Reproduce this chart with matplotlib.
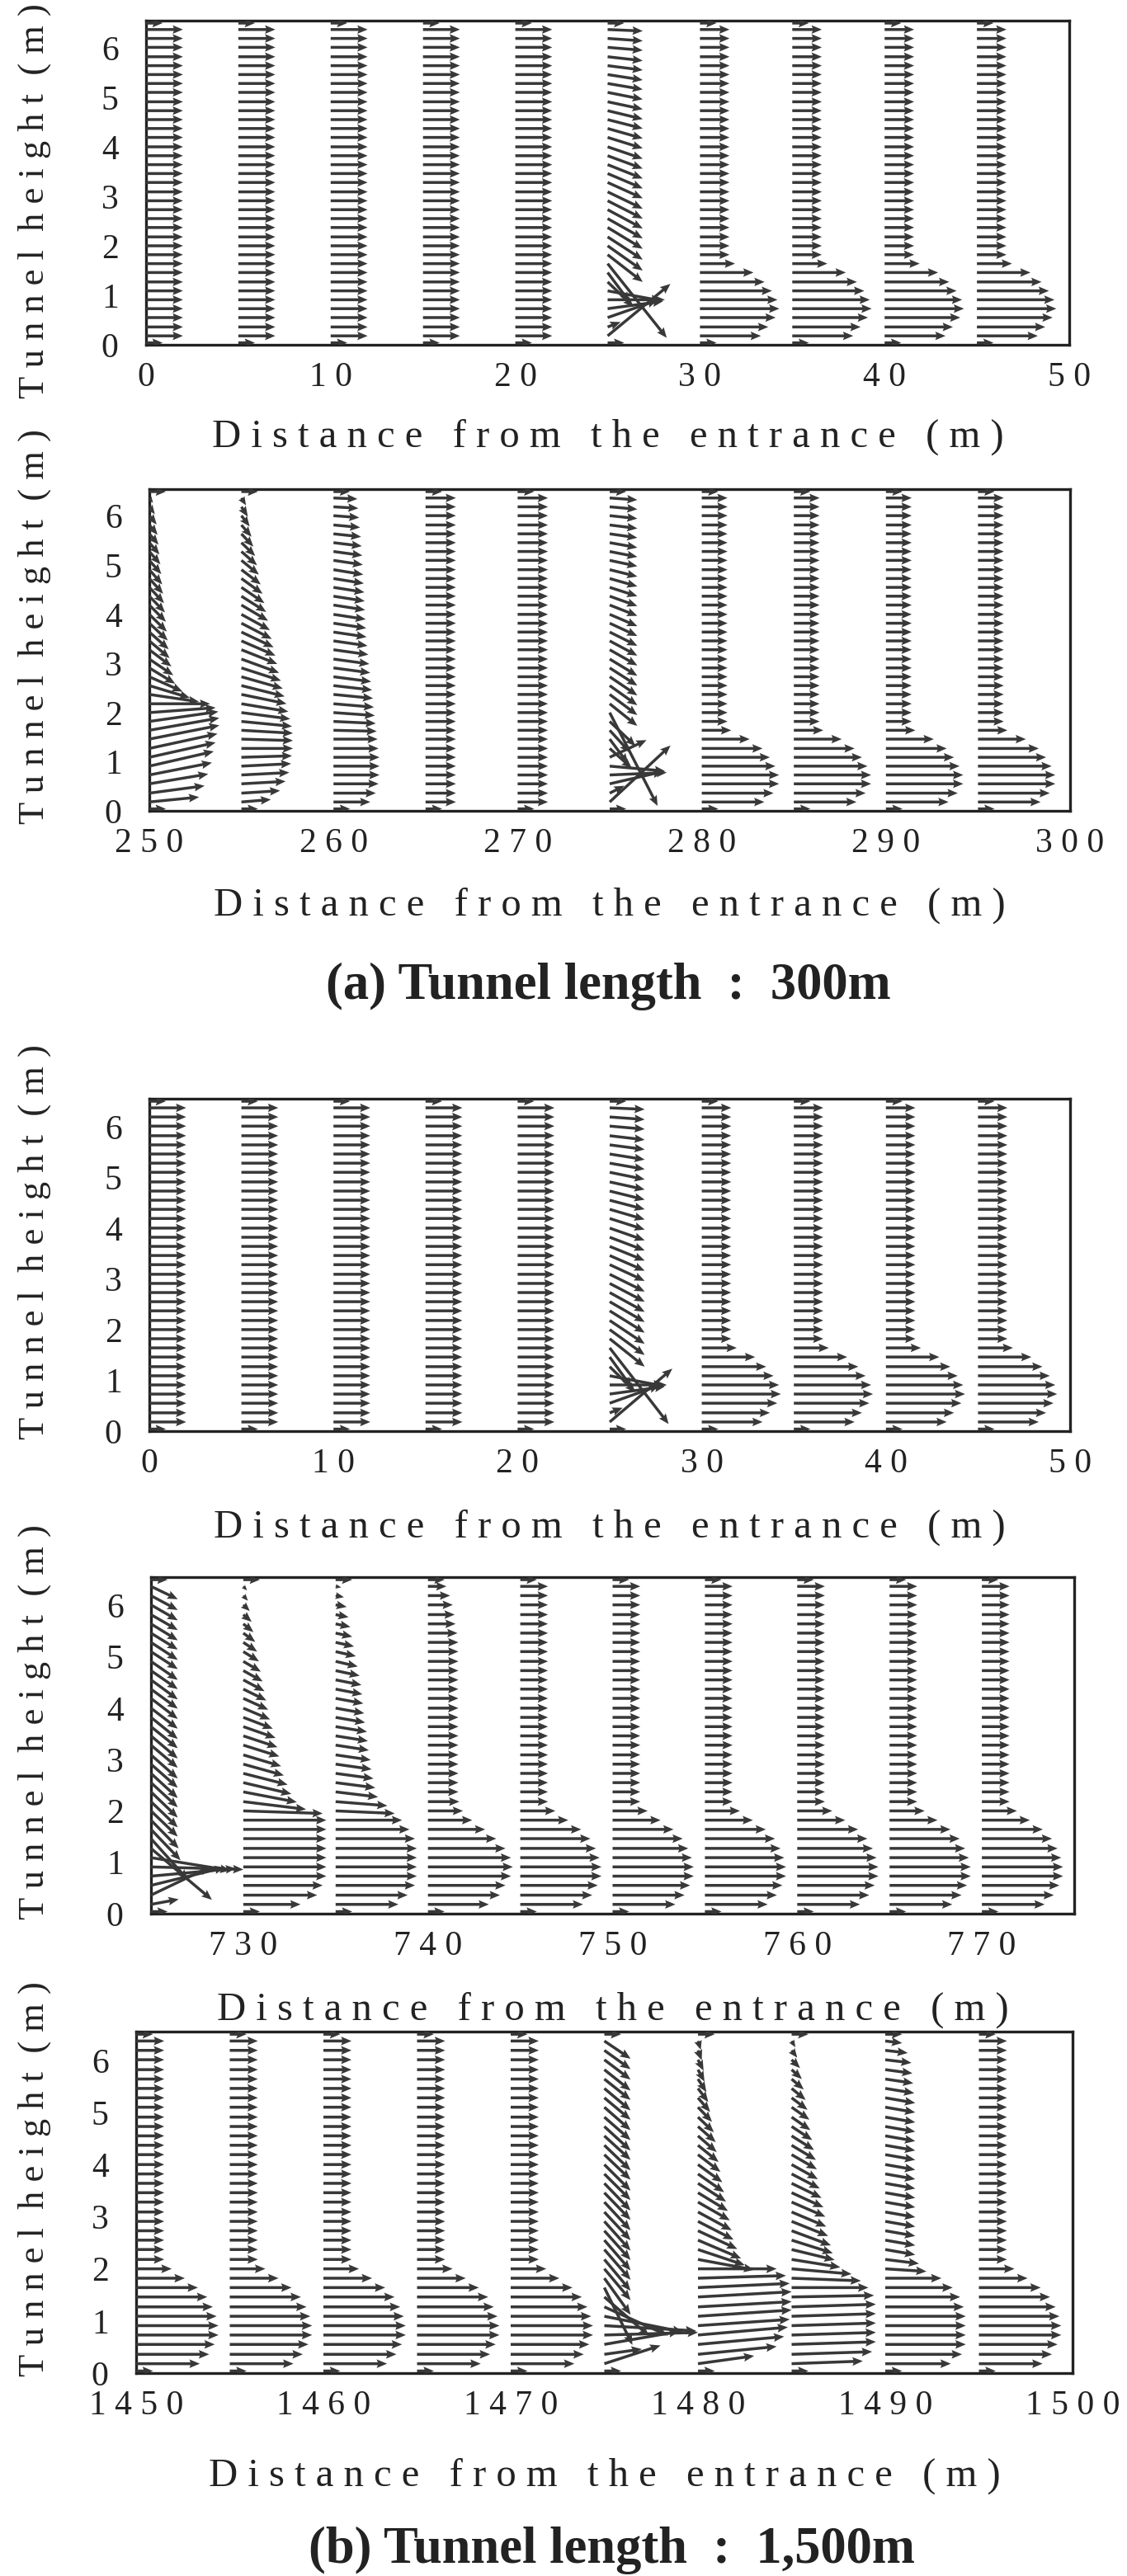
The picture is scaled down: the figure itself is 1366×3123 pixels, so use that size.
import matplotlib
matplotlib.use('Agg')
import matplotlib.pyplot as plt

plt.rcParams['font.family'] = ['Liberation Serif', 'DejaVu Serif']

# grid heights (m) where velocity vectors are drawn, bottom -> top
heights = [0.18, 0.36, 0.55, 0.73, 0.91, 1.09, 1.27, 1.46, 1.64, 1.82,
           2.00, 2.18, 2.37, 2.55, 2.73, 2.91, 3.09, 3.28, 3.46, 3.64,
           3.82, 4.00, 4.19, 4.37, 4.55, 4.73, 4.91, 5.10, 5.28, 5.46,
           5.64, 5.82, 6.01, 6.19, 6.37]

v_zero = [0.0, 0.0, 0.0, 0.0, 0.0, 0.0, 0.0, 0.0, 0.0, 0.0, 0.0, 0.0,
          0.0, 0.0, 0.0, 0.0, 0.0, 0.0, 0.0, 0.0, 0.0, 0.0, 0.0, 0.0,
          0.0, 0.0, 0.0, 0.0, 0.0, 0.0, 0.0, 0.0, 0.0, 0.0, 0.0]

# entrance region, plug flow
u_uniform_a = [2.0, 2.0, 2.0, 2.0, 2.0, 2.0, 2.0, 2.0, 2.0, 2.0, 2.0, 2.0,
               2.0, 2.0, 2.0, 2.0, 2.0, 2.0, 2.0, 2.0, 2.0, 2.0, 2.0, 2.0,
               2.0, 2.0, 2.0, 2.0, 2.0, 2.0, 2.0, 2.0, 2.0, 2.0, 2.0]
u_uniform_b = [1.65, 1.65, 1.65, 1.65, 1.65, 1.65, 1.65, 1.65, 1.65, 1.65,
               1.65, 1.65, 1.65, 1.65, 1.65, 1.65, 1.65, 1.65, 1.65, 1.65,
               1.65, 1.65, 1.65, 1.65, 1.65, 1.65, 1.65, 1.65, 1.65, 1.65,
               1.65, 1.65, 1.65, 1.65, 1.65]

# wall jet downstream of the fan
u_jet_a = [3.3, 3.7, 4.1, 4.3, 4.2, 3.9, 3.5, 2.9, 1.9, 1.6, 1.6, 1.6,
           1.6, 1.6, 1.6, 1.6, 1.6, 1.6, 1.6, 1.6, 1.6, 1.6, 1.6, 1.6,
           1.6, 1.6, 1.6, 1.6, 1.6, 1.6, 1.6, 1.6, 1.6, 1.6, 1.6]
u_jet_b = [3.4, 3.9, 4.2, 4.2, 4.0, 3.7, 3.3, 2.6, 1.6, 1.4, 1.4, 1.4,
           1.4, 1.4, 1.4, 1.4, 1.4, 1.4, 1.4, 1.4, 1.4, 1.4, 1.4, 1.4,
           1.4, 1.4, 1.4, 1.4, 1.4, 1.4, 1.4, 1.4, 1.4, 1.4, 1.4]
u_jet_c = [3.4, 3.9, 4.2, 4.4, 4.4, 4.3, 4.1, 3.8, 3.3, 2.6, 1.9, 1.5,
           1.5, 1.5, 1.5, 1.5, 1.5, 1.5, 1.5, 1.5, 1.5, 1.5, 1.5, 1.5,
           1.5, 1.5, 1.5, 1.5, 1.5, 1.5, 1.5, 1.5, 1.5, 1.5, 1.5]

# jet fan stations
u_fan_a = [3.4, 0.7, 2.7, 3.0, 3.1, 2.9, 1.4, 1.2, 3.2, 1.9, 1.9, 1.9,
           1.9, 1.9, 1.9, 1.9, 1.9, 1.9, 1.9, 1.9, 1.9, 1.9, 1.9, 1.9,
           1.9, 1.9, 1.9, 1.9, 1.9, 1.9, 1.9, 1.9, 1.9, 1.9, 1.9]
v_fan_a = [1.05, 0.10, 0.35, 0.15, 0.00, -0.20, -0.50, -0.60, -1.50, -0.55,
           -0.50, -0.46, -0.43, -0.40, -0.38, -0.36, -0.34, -0.32, -0.30, -0.28,
           -0.26, -0.24, -0.22, -0.20, -0.18, -0.17, -0.15, -0.14, -0.12, -0.11,
           -0.09, -0.08, -0.06, -0.05, -0.03]
u_fan_b = [3.3, 0.8, 2.9, 3.1, 3.0, 2.0, 1.2, 1.0, 1.1, 1.4, 2.6, 1.5,
           1.5, 1.5, 1.5, 1.5, 1.5, 1.5, 1.5, 1.5, 1.5, 1.5, 1.5, 1.5,
           1.5, 1.5, 1.5, 1.5, 1.5, 1.5, 1.5, 1.5, 1.5, 1.5, 1.5]
v_fan_b = [1.15, 0.15, 0.25, 0.05, -0.10, 0.35, -0.40, -0.50, -0.45, -0.50,
           -1.90, -0.45, -0.42, -0.40, -0.38, -0.36, -0.34, -0.32, -0.30, -0.28,
           -0.26, -0.24, -0.22, -0.20, -0.18, -0.16, -0.14, -0.12, -0.11, -0.10,
           -0.08, -0.07, -0.06, -0.05, -0.04]
u_fan_c = [1.5, 3.2, 4.0, 4.6, 5.0, 4.3, 3.3, 2.0, 1.6, 1.5, 1.45, 1.45,
           1.45, 1.45, 1.45, 1.45, 1.45, 1.45, 1.45, 1.45, 1.45, 1.45, 1.45, 1.45,
           1.45, 1.45, 1.45, 1.45, 1.45, 1.45, 1.45, 1.45, 1.45, 1.45, 1.45]
v_fan_c = [0.10, 0.55, 0.35, 0.15, -0.05, -0.25, -1.00, -0.80, -0.60, -0.55,
           -0.50, -0.50, -0.50, -0.48, -0.48, -0.46, -0.46, -0.44, -0.44, -0.42,
           -0.42, -0.40, -0.40, -0.38, -0.38, -0.36, -0.36, -0.34, -0.34, -0.32,
           -0.32, -0.30, -0.30, -0.28, -0.25]
u_fan_d = [3.0, 2.0, 4.0, 5.0, 4.9, 4.2, 3.4, 2.4, 1.5, 1.4, 1.4, 1.4,
           1.4, 1.4, 1.4, 1.4, 1.4, 1.4, 1.4, 1.4, 1.4, 1.4, 1.4, 1.4,
           1.4, 1.4, 1.4, 1.4, 1.4, 1.4, 1.4, 1.4, 1.4, 1.4, 1.4]
v_fan_d = [0.35, 0.10, 0.25, 0.05, -0.10, -0.30, -0.55, -0.75, -1.10, -0.70,
           -0.60, -0.60, -0.58, -0.58, -0.56, -0.56, -0.54, -0.54, -0.52, -0.52,
           -0.50, -0.50, -0.48, -0.48, -0.46, -0.46, -0.44, -0.44, -0.42, -0.42,
           -0.40, -0.40, -0.38, -0.36, -0.34]

# 300 m tunnel, 250-260 m (exit region)
u_p2_250 = [2.7, 3.0, 3.2, 3.4, 3.5, 3.6, 3.7, 3.8, 3.8, 3.75, 3.6, 3.3,
            2.7, 2.2, 1.8, 1.4, 1.3, 1.2, 1.1, 1.05, 1.0, 0.95, 0.9, 0.85,
            0.8, 0.75, 0.7, 0.65, 0.6, 0.55, 0.5, 0.45, 0.4, 0.3, 0.2]
v_p2_250 = [0.10, 0.15, 0.20, 0.25, 0.30, 0.30, 0.30, 0.28, 0.25, 0.20,
            0.10, 0.00, -0.15, -0.25, -0.30, -0.32, -0.33, -0.34, -0.35, -0.35,
            -0.35, -0.35, -0.34, -0.33, -0.32, -0.31, -0.30, -0.28, -0.26, -0.24,
            -0.22, -0.20, -0.18, -0.15, -0.10]
u_p2_255 = [1.6, 2.1, 2.4, 2.6, 2.7, 2.75, 2.8, 2.8, 2.8, 2.75, 2.65, 2.55,
            2.45, 2.35, 2.25, 2.15, 2.05, 1.95, 1.85, 1.75, 1.65, 1.55, 1.45, 1.35,
            1.25, 1.15, 1.05, 0.95, 0.85, 0.75, 0.65, 0.55, 0.45, 0.35, 0.25]
v_p2_255 = [0.05, 0.05, 0.05, 0.05, 0.05, 0.03, 0.0, -0.03, -0.06, -0.10,
            -0.13, -0.16, -0.19, -0.22, -0.24, -0.26, -0.28, -0.29, -0.30, -0.31,
            -0.32, -0.32, -0.32, -0.32, -0.32, -0.31, -0.30, -0.29, -0.28, -0.27,
            -0.26, -0.24, -0.22, -0.20, -0.15]
u_p2_260 = [2.0, 2.3, 2.45, 2.5, 2.5, 2.5, 2.45, 2.4, 2.35, 2.3, 2.25, 2.2,
            2.15, 2.1, 2.05, 2.0, 1.95, 1.9, 1.85, 1.8, 1.78, 1.75, 1.72, 1.7,
            1.68, 1.65, 1.62, 1.6, 1.57, 1.54, 1.5, 1.45, 1.4, 1.35, 1.3]
v_p2_260 = [0.0, 0.0, 0.0, 0.0, 0.0, 0.0, 0.0, 0.0, -0.02, -0.04,
            -0.06, -0.07, -0.08, -0.09, -0.1, -0.1, -0.1, -0.1, -0.1, -0.1,
            -0.1, -0.1, -0.1, -0.1, -0.1, -0.1, -0.1, -0.09, -0.08, -0.07,
            -0.06, -0.05, -0.04, -0.03, -0.02]

# 1500 m tunnel, 725-745 m
u_p4_730 = [3.1, 4.0, 4.3, 4.5, 4.5, 4.5, 4.5, 4.5, 4.5, 4.5, 4.3, 3.4,
            2.9, 2.6, 2.4, 2.2, 2.05, 1.95, 1.85, 1.75, 1.6, 1.45, 1.35, 1.25,
            1.15, 1.05, 0.95, 0.85, 0.75, 0.65, 0.55, 0.45, 0.35, 0.25, 0.2]
v_p4_730 = [0.0, 0.0, 0.0, 0.0, 0.0, 0.0, 0.0, 0.0, 0.0, 0.0,
            -0.05, -0.15, -0.20, -0.22, -0.22, -0.22, -0.22, -0.22, -0.22, -0.22,
            -0.22, -0.22, -0.22, -0.22, -0.22, -0.21, -0.20, -0.19, -0.18, -0.17,
            -0.16, -0.14, -0.12, -0.10, -0.08]
u_p4_735 = [3.4, 3.9, 4.3, 4.4, 4.4, 4.4, 4.4, 4.3, 4.0, 3.6, 3.2, 2.8,
            2.3, 2.15, 2.05, 1.95, 1.9, 1.8, 1.75, 1.7, 1.6, 1.55, 1.5, 1.45,
            1.4, 1.3, 1.2, 1.1, 1.0, 0.9, 0.8, 0.7, 0.6, 0.45, 0.3]
v_p4_735 = [0.0, 0.0, 0.0, 0.0, 0.0, 0.0, 0.0, 0.0, 0.0, 0.0,
            -0.05, -0.08, -0.1, -0.1, -0.1, -0.1, -0.1, -0.1, -0.1, -0.1,
            -0.1, -0.1, -0.1, -0.1, -0.1, -0.1, -0.1, -0.09, -0.08, -0.07,
            -0.06, -0.05, -0.04, -0.03, -0.02]
u_p4_740 = [3.3, 3.9, 4.2, 4.5, 4.6, 4.5, 4.2, 3.7, 3.1, 2.4, 1.9, 1.7,
            1.65, 1.65, 1.65, 1.65, 1.65, 1.65, 1.65, 1.65, 1.65, 1.65, 1.65, 1.65,
            1.65, 1.65, 1.65, 1.65, 1.65, 1.6, 1.5, 1.45, 1.35, 1.2, 1.0]

# 1500 m tunnel, 1480-1490 m
u_p5_1480 = [3.0, 4.2, 4.6, 4.8, 4.9, 5.0, 5.0, 5.0, 4.9, 4.7, 4.2, 3.0,
             2.5, 2.3, 2.1, 1.9, 1.8, 1.7, 1.6, 1.5, 1.4, 1.3, 1.2, 1.1,
             1.0, 0.95, 0.85, 0.75, 0.65, 0.55, 0.45, 0.35, 0.3, 0.2, 0.15]
v_p5_1480 = [0.15, 0.15, 0.15, 0.15, 0.12, 0.12, 0.10, 0.10, 0.08, 0.05,
             0.0, -0.20, -0.30, -0.35, -0.35, -0.35, -0.35, -0.35, -0.35, -0.35,
             -0.35, -0.34, -0.33, -0.32, -0.31, -0.30, -0.29, -0.28, -0.27, -0.26,
             -0.25, -0.23, -0.21, -0.19, -0.17]
u_p5_1485 = [3.8, 4.3, 4.5, 4.5, 4.5, 4.5, 4.5, 4.4, 4.1, 3.7, 3.2, 2.6,
             2.3, 2.2, 2.1, 1.95, 1.85, 1.8, 1.7, 1.6, 1.5, 1.4, 1.35, 1.3,
             1.2, 1.1, 1.0, 0.95, 0.85, 0.75, 0.65, 0.55, 0.45, 0.3, 0.2]
v_p5_1485 = [0.05, 0.05, 0.05, 0.05, 0.05, 0.05, 0.05, 0.03, 0.0, -0.05,
             -0.10, -0.15, -0.20, -0.25, -0.28, -0.28, -0.28, -0.28, -0.28, -0.28,
             -0.28, -0.28, -0.28, -0.28, -0.27, -0.26, -0.25, -0.24, -0.23, -0.22,
             -0.20, -0.18, -0.16, -0.14, -0.12]
u_p5_1490 = [3.5, 4.1, 4.3, 4.3, 4.3, 4.3, 4.2, 4.0, 3.6, 3.0, 2.2, 1.8,
             1.6, 1.6, 1.6, 1.6, 1.6, 1.6, 1.6, 1.6, 1.6, 1.6, 1.6, 1.6,
             1.6, 1.6, 1.6, 1.6, 1.6, 1.55, 1.5, 1.45, 1.4, 1.2, 0.9]
v_p5_1490 = [0.0, 0.0, 0.0, 0.0, 0.0, 0.0, 0.0, 0.0, 0.0, 0.0,
             -0.05, -0.08, -0.1, -0.1, -0.1, -0.1, -0.1, -0.1, -0.1, -0.1,
             -0.1, -0.1, -0.1, -0.1, -0.1, -0.1, -0.1, -0.1, -0.1, -0.09,
             -0.08, -0.07, -0.06, -0.05, -0.04]

# small vectors drawn on the floor / ceiling at every station
wall_u = 0.9

profiles = {
    'uniform_a': (u_uniform_a, v_zero), 'uniform_b': (u_uniform_b, v_zero),
    'jet_a': (u_jet_a, v_zero), 'jet_b': (u_jet_b, v_zero), 'jet_c': (u_jet_c, v_zero),
    'fan_a': (u_fan_a, v_fan_a), 'fan_b': (u_fan_b, v_fan_b),
    'fan_c': (u_fan_c, v_fan_c), 'fan_d': (u_fan_d, v_fan_d),
    'p2_250': (u_p2_250, v_p2_250), 'p2_255': (u_p2_255, v_p2_255),
    'p2_260': (u_p2_260, v_p2_260),
    'p4_730': (u_p4_730, v_p4_730), 'p4_735': (u_p4_735, v_p4_735),
    'p4_740': (u_p4_740, v_zero),
    'p5_1480': (u_p5_1480, v_p5_1480), 'p5_1485': (u_p5_1485, v_p5_1485),
    'p5_1490': (u_p5_1490, v_p5_1490),
}

p1_x = [0, 5, 10, 15, 20, 25, 30, 35, 40, 45]
p1_prof = ['uniform_a'] * 5 + ['fan_a'] + ['jet_a'] * 4
p2_x = [250, 255, 260, 265, 270, 275, 280, 285, 290, 295]
p2_prof = ['p2_250', 'p2_255', 'p2_260', 'uniform_b', 'uniform_b', 'fan_b',
           'jet_b', 'jet_b', 'jet_b', 'jet_b']
p3_x = [0, 5, 10, 15, 20, 25, 30, 35, 40, 45]
p3_prof = ['uniform_a'] * 5 + ['fan_a'] + ['jet_a'] * 4
p4_x = [725, 730, 735, 740, 745, 750, 755, 760, 765, 770]
p4_prof = ['fan_c', 'p4_730', 'p4_735', 'p4_740'] + ['jet_c'] * 6
p5_x = [1450, 1455, 1460, 1465, 1470, 1475, 1480, 1485, 1490, 1495]
p5_prof = ['jet_c'] * 5 + ['fan_d', 'p5_1480', 'p5_1485', 'p5_1490', 'jet_c']

p1_ticks = [0, 10, 20, 30, 40, 50]
p2_ticks = [250, 260, 270, 280, 290, 300]
p4_ticks = [730, 740, 750, 760, 770]
p5_ticks = [1450, 1460, 1470, 1480, 1490, 1500]
y_ticks = [0, 1, 2, 3, 4, 5, 6]

# ---- layout (pixels: left, top, right, bottom), xlabel offset, ylabel shift ----
W, H = 1366, 3123
panels = [
    ((177, 25, 1296, 418), (0, 50), p1_ticks, p1_x, p1_prof, 112, 22),
    ((181, 593, 1297, 983), (250, 300), p2_ticks, p2_x, p2_prof, 115, -28),
    ((181, 1332, 1297, 1735), (0, 50), p1_ticks, p3_x, p3_prof, 117, -28),
    ((183, 1912, 1302, 2320), (725, 775), p4_ticks, p4_x, p4_prof, 117, -28),
    ((165, 2463, 1300, 2877), (1450, 1500), p5_ticks, p5_x, p5_prof, 125, -28),
]

ink = '#383838'
qstyle = dict(angles='xy', scale_units='xy', scale=1, width=0.0031,
              headwidth=3.0, headlength=3.6, headaxislength=3.2,
              color=ink, pivot='tail', zorder=3)


def spaced(s, word_gap=3):
    return (' ' * word_gap).join(' '.join(w) for w in s.split(' '))


fig = plt.figure(figsize=(W / 100, H / 100), dpi=100)

for (l, t, r, b), xlim, ticks, xs, prof, xlab_off, ylab_shift in panels:
    ax = fig.add_axes([l / W, 1 - b / H, (r - l) / W, (b - t) / H])
    X, Y, U, V = [], [], [], []
    for x0, name in zip(xs, prof):
        u, v = profiles[name]
        for h, uu, vv in zip(heights, u, v):
            X.append(x0); Y.append(h); U.append(uu); V.append(vv)
    ax.quiver(X, Y, U, V, **qstyle)
    # floor and ceiling marks
    ax.quiver(xs + xs, [0.04] * len(xs) + [6.5] * len(xs),
              [wall_u] * (2 * len(xs)), [0.0] * (2 * len(xs)), **qstyle)

    ax.set_xlim(*xlim)
    ax.set_ylim(0, 6.55)
    ax.set_xticks(ticks)
    ax.set_xticklabels([' '.join(str(k)) for k in ticks])
    ax.set_yticks(y_ticks)
    ax.set_yticklabels([str(k) for k in y_ticks])
    ax.tick_params(axis='x', length=0, pad=15, labelsize=30, colors='#222222')
    ax.tick_params(axis='y', length=0, pad=24, labelsize=30, colors='#222222')
    for sp in ax.spines.values():
        sp.set_linewidth(2.4)
        sp.set_color('#222222')

    cx = (l + r) / 2
    fig.text(cx / W, 1 - (b + xlab_off) / H, spaced('Distance from the entrance (m)'),
             ha='center', va='center', fontsize=35, color='#222222')
    cy = (t + b) / 2 + ylab_shift
    fig.text(42 / W, 1 - cy / H, spaced('Tunnel height (m)', 2),
             ha='center', va='center', rotation=90, fontsize=32, color='#222222')

fig.text(737 / W, 1 - 1196 / H, '(a) Tunnel length  :  300m', ha='center',
         va='center', fontsize=45, fontweight='bold', color='#222222')
fig.text(742 / W, 1 - 3092 / H, '(b) Tunnel length  :  1,500m', ha='center',
         va='center', fontsize=45, fontweight='bold', color='#222222')

fig.savefig('out.png', dpi=100, facecolor='white')
